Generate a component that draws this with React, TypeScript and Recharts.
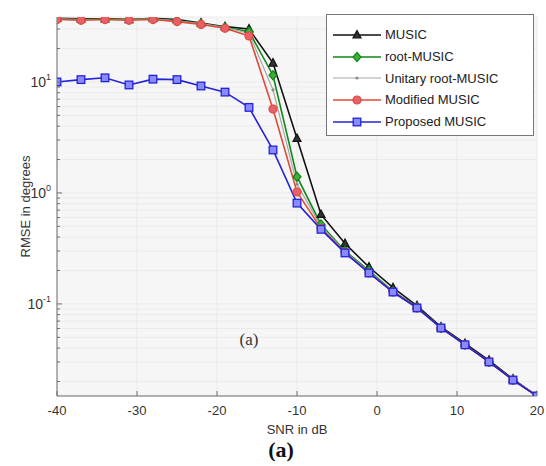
import React from 'react'
import { LineChart, Line, XAxis, YAxis, CartesianGrid, Legend, ReferenceDot } from 'recharts'

// SNR steps (dB)
const snr = [-40, -37, -34, -31, -28, -25, -22, -19, -16, -13, -10, -7, -4, -1, 2, 5, 8, 11, 14, 17, 20]

// RMSE in degrees
const music = [37.5, 37, 37, 36.5, 37.5, 36.5, 34, 31.5, 30, 14.8, 3.1, 0.64, 0.35, 0.215, 0.14, 0.096, 0.062, 0.044, 0.031, 0.021, 0.0148]
const rootMusic = [37, 36.5, 37, 36.5, 37, 35.5, 33.5, 31, 28.5, 11.5, 1.4, 0.52, 0.3, 0.2, 0.13, 0.093, 0.061, 0.043, 0.03, 0.0207, 0.0148]
const unitaryRoot = [37, 36.5, 36.5, 36.5, 37, 35.5, 33.5, 31, 27.5, 8.5, 1.2, 0.5, 0.295, 0.195, 0.129, 0.092, 0.0607, 0.0428, 0.03, 0.0206, 0.0148]
const modifiedMusic = [36.5, 36, 36.5, 36, 36.5, 35, 33, 30.5, 26, 5.7, 1.02, 0.48, 0.29, 0.19, 0.128, 0.092, 0.0607, 0.0428, 0.03, 0.0206, 0.0148]
const proposedMusic = [10, 10.5, 10.9, 9.4, 10.6, 10.5, 9.2, 8.1, 5.9, 2.44, 0.81, 0.47, 0.288, 0.19, 0.128, 0.092, 0.0607, 0.0428, 0.03, 0.0206, 0.0148]

const xTicks = [-40, -30, -20, -10, 0, 10, 20]
const yTicks = [0.02, 0.03, 0.04, 0.05, 0.06, 0.07, 0.08, 0.09, 0.1, 0.2, 0.3, 0.4, 0.5, 0.6, 0.7, 0.8, 0.9, 1, 2, 3, 4, 5, 6, 7, 8, 9, 10, 20, 30]
const yMajor = [0.1, 1, 10]
const yExp = ['-1', '0', '1']

const data = snr.map((s, i) => ({
  snr: s,
  music: music[i],
  root: rootMusic[i],
  unitary: unitaryRoot[i],
  modified: modifiedMusic[i],
  proposed: proposedMusic[i],
}))

type Kind = 'tri' | 'diamond' | 'dot' | 'circle' | 'square'

const Marker = ({ kind, cx, cy, stroke, fill }: { kind: Kind; cx: number; cy: number; stroke: string; fill: string }) => {
  if (kind === 'tri') return <path d={`M${cx},${cy - 4.5} L${cx + 4},${cy + 3} L${cx - 4},${cy + 3} Z`} stroke={stroke} fill={fill} strokeWidth={1.2} />
  if (kind === 'diamond') return <path d={`M${cx},${cy - 4.5} L${cx + 4},${cy} L${cx},${cy + 4.5} L${cx - 4},${cy} Z`} stroke={stroke} fill={fill} strokeWidth={1.2} />
  if (kind === 'dot') return <circle cx={cx} cy={cy} r={1.6} fill={fill} stroke="none" />
  if (kind === 'circle') return <circle cx={cx} cy={cy} r={4} stroke={stroke} fill={fill} strokeWidth={1.2} />
  return <rect x={cx - 3.8} y={cy - 3.8} width={7.6} height={7.6} stroke={stroke} fill={fill} strokeWidth={1.3} />
}

const series = [
  { key: 'music', name: 'MUSIC', color: '#111111', fill: '#333333', kind: 'tri' as Kind, width: 1.6 },
  { key: 'root', name: 'root-MUSIC', color: '#11871a', fill: '#3fae3a', kind: 'diamond' as Kind, width: 1.6 },
  { key: 'unitary', name: 'Unitary root-MUSIC', color: '#a8a8a8', fill: '#8c8c8c', kind: 'dot' as Kind, width: 1.2 },
  { key: 'modified', name: 'Modified MUSIC', color: '#e04a3a', fill: '#e8606a', kind: 'circle' as Kind, width: 1.6 },
  { key: 'proposed', name: 'Proposed MUSIC', color: '#2323d8', fill: '#8a8aff', kind: 'square' as Kind, width: 1.6 },
]

const dotFor = (s: typeof series[number]) => (p: any) => {
  const { cx, cy, index } = p
  if (cx == null || cy == null) return <g key={`${s.key}-${index}`} />
  return (
    <g key={`${s.key}-${index}`}>
      <Marker kind={s.kind} cx={cx} cy={cy} stroke={s.color} fill={s.fill} />
    </g>
  )
}

const axisColor = '#6e6e6e'
const font = '"Liberation Sans", Arial, sans-serif'

const XTick = ({ x, y, payload }: any) => (
  <g>
    <line x1={x} x2={x} y1={y} y2={y - 5} stroke={axisColor} />
    <text x={x} y={y + 19} textAnchor="middle" fontSize={13} fontFamily={font} fill="#333">
      {payload.value}
    </text>
  </g>
)

const XTopTick = ({ x, y }: any) => <line x1={x} x2={x} y1={y} y2={y + 5} stroke={axisColor} />

const YTick = ({ x, y, payload }: any) => {
  const idx = yMajor.indexOf(payload.value)
  const len = idx >= 0 ? 5 : 3
  return (
    <g>
      <line x1={x} x2={x + len} y1={y} y2={y} stroke={axisColor} />
      {idx >= 0 && (
        <text x={x - 6} y={y + 5} textAnchor="end" fontSize={14} fontFamily={font} fill="#333">
          10
          <tspan dy={-7} fontSize={9}>{yExp[idx]}</tspan>
        </text>
      )}
    </g>
  )
}

const YRightTick = ({ x, y, payload }: any) => {
  const len = yMajor.includes(payload.value) ? 5 : 3
  return <line x1={x} x2={x - len} y1={y} y2={y} stroke={axisColor} />
}

const LegendBox = () => (
  <div
    style={{
      border: '1px solid #777',
      background: '#fff',
      width: 208,
      height: 122,
      boxSizing: 'border-box',
      paddingTop: 9,
      fontFamily: font,
      fontSize: 13,
      color: '#222',
    }}
  >
    {series.map((s) => (
      <div key={s.key} style={{ display: 'flex', alignItems: 'center', height: 21.7 }}>
        <svg width={52} height={12} style={{ marginLeft: 6 }}>
          <line x1={0} x2={48} y1={6} y2={6} stroke={s.color} strokeWidth={s.width} />
          <Marker kind={s.kind} cx={24} cy={6} stroke={s.color} fill={s.fill} />
        </svg>
        <span>{s.name}</span>
      </div>
    ))}
  </div>
)

export default function App() {
  return (
    <div style={{ position: 'absolute', left: 0, top: 0, width: 546, height: 466, background: '#fff' }}>
      <LineChart width={546} height={466} data={data} margin={{ top: 17, right: 9, bottom: 48, left: 7 }}>
        <CartesianGrid stroke="#ebebeb" fill="#f6f6f6" verticalValues={xTicks} />
        <XAxis
          dataKey="snr"
          type="number"
          domain={[-40, 20]}
          ticks={xTicks}
          interval={0}
          allowDataOverflow
          height={22}
          tickSize={0}
          tickMargin={0}
          stroke={axisColor}
          tick={<XTick />}
          label={{
            content: ({ viewBox }: any) => (
              <text x={viewBox.x + viewBox.width / 2} y={viewBox.y + 38} textAnchor="middle" fontSize={13} fontFamily={font} fill="#333">
                SNR in dB
              </text>
            ),
          }}
        />
        <XAxis
          xAxisId="top"
          orientation="top"
          dataKey="snr"
          type="number"
          domain={[-40, 20]}
          ticks={xTicks}
          interval={0}
          height={0}
          tickSize={0}
          tickMargin={0}
          stroke={axisColor}
          tick={<XTopTick />}
        />
        <YAxis
          scale="log"
          type="number"
          domain={[0.0148, 38.5]}
          allowDataOverflow
          ticks={yTicks}
          interval={0}
          width={50}
          tickSize={0}
          tickMargin={0}
          stroke={axisColor}
          tick={<YTick />}
          label={{
            content: ({ viewBox }: any) => {
              const cx = 25
              const cy = viewBox.y + viewBox.height / 2
              return (
                <text x={cx} y={cy} transform={`rotate(-90 ${cx} ${cy})`} textAnchor="middle" dominantBaseline="central" fontSize={13} fontFamily={font} fill="#333">
                  RMSE in degrees
                </text>
              )
            },
          }}
        />
        <YAxis
          yAxisId="right"
          orientation="right"
          scale="log"
          type="number"
          domain={[0.0148, 38.5]}
          allowDataOverflow
          ticks={yTicks}
          interval={0}
          width={0}
          tickSize={0}
          tickMargin={0}
          stroke={axisColor}
          tick={<YRightTick />}
        />
        {series.map((s) => (
          <Line
            key={s.key}
            dataKey={s.key}
            name={s.name}
            type="linear"
            stroke={s.color}
            strokeWidth={s.width}
            dot={dotFor(s)}
            activeDot={false}
            isAnimationActive={false}
          />
        ))}
        <ReferenceDot
          x={-16}
          y={0.048}
          r={0}
          stroke="none"
          fill="none"
          label={{ value: '(a)', position: 'center', fontSize: 17, fontFamily: '"Liberation Serif", "Times New Roman", serif', fill: '#333' }}
        />
        <Legend
          layout="vertical"
          align="center"
          verticalAlign="middle"
          content={<LegendBox />}
          wrapperStyle={{ position: 'absolute', left: 326, top: 14, width: 208, height: 122 }}
        />
      </LineChart>
      <div
        style={{
          position: 'absolute',
          left: 0,
          width: 562,
          top: 437,
          textAlign: 'center',
          fontFamily: '"Liberation Serif", "Times New Roman", serif',
          fontWeight: 'bold',
          fontSize: 22,
          color: '#111',
        }}
      >
        (a)
      </div>
    </div>
  )
}
